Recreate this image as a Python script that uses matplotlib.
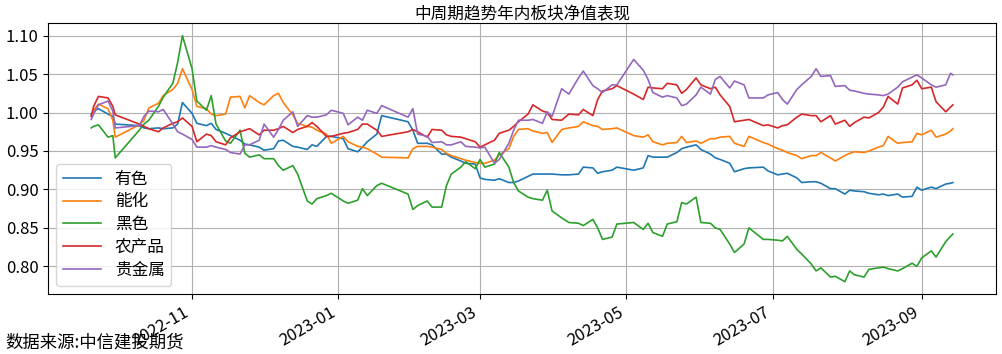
import matplotlib
matplotlib.use("Agg")
import matplotlib.pyplot as plt
import matplotlib.dates as mdates
import pandas as pd

plt.rcParams["font.family"] = ["Noto Sans CJK SC", "DejaVu Sans"]

# exchange holidays (weekdays with no trading)
HOLIDAYS = ["2022-10-03", "2022-10-04", "2022-10-05", "2022-10-06", "2022-10-07",
            "2023-01-02", "2023-01-23", "2023-01-24", "2023-01-25", "2023-01-26",
            "2023-01-27", "2023-04-05", "2023-05-01", "2023-05-02", "2023-05-03",
            "2023-06-22", "2023-06-23"]

days = pd.bdate_range("2022-09-20", "2023-09-14")
days = days[~days.isin(pd.to_datetime(HOLIDAYS))]
# every second trading day, plus first / last and the 30 Sep close
idx = sorted({0, 8, len(days) - 1} | set(range(1, len(days) - 1, 2)))
dates = days[idx]

LABELS = ["有色", "能化", "黑色", "农产品", "贵金属"]

youse = [0.998, 1.002, 1.005, 0.998, 0.995, 0.985, 0.983, 0.980, 0.979, 0.980, 0.979, 0.980, 0.985, 1.013, 0.999, 0.986, 0.983, 0.986, 0.978, 0.973, 0.970,
         0.964, 0.959, 0.958, 0.955, 0.951, 0.953, 0.963, 0.964, 0.956, 0.955, 0.952, 0.958, 0.956, 0.969, 0.969, 0.966, 0.953, 0.949, 0.955, 0.962, 0.972,
         0.996, 0.988, 0.977, 0.960, 0.960, 0.958, 0.946, 0.946, 0.942, 0.937, 0.934, 0.933, 0.915, 0.913, 0.912, 0.914, 0.909, 0.909, 0.911,
         0.917, 0.920, 0.920, 0.920, 0.920, 0.919, 0.919, 0.920, 0.929, 0.928, 0.921, 0.923, 0.925, 0.929, 0.925, 0.928, 0.944, 0.942, 0.942, 0.942,
         0.948, 0.953, 0.955, 0.958, 0.952, 0.946, 0.941, 0.939, 0.934, 0.923, 0.927, 0.928, 0.929, 0.924, 0.919, 0.920, 0.921, 0.915, 0.909, 0.910,
         0.910, 0.908, 0.901, 0.901, 0.894, 0.899, 0.898, 0.897, 0.895, 0.893, 0.894, 0.892, 0.894, 0.890, 0.891, 0.903, 0.899, 0.903, 0.901, 0.907, 0.908, 0.909]

nenghua = [0.995, 1.003, 1.011, 1.005, 0.990, 0.968, 0.984, 0.990, 1.006, 1.012, 1.022, 1.030, 1.038, 1.057, 1.030, 1.008, 1.005, 0.998, 0.996, 0.998, 1.020,
           1.021, 1.006, 1.022, 1.013, 1.010, 1.022, 1.025, 1.013, 0.997, 0.986, 0.982, 0.981, 0.977, 0.972, 0.960, 0.969, 0.962, 0.956, 0.955, 0.953, 0.946,
           0.942, 0.941, 0.953, 0.956, 0.956, 0.955, 0.952, 0.947, 0.944, 0.940, 0.938, 0.935, 0.934, 0.934, 0.938, 0.945, 0.953, 0.969, 0.978,
           0.979, 0.976, 0.973, 0.974, 0.961, 0.978, 0.980, 0.982, 0.988, 0.983, 0.982, 0.978, 0.979, 0.980, 0.970, 0.968, 0.971, 0.962, 0.958, 0.960,
           0.961, 0.969, 0.961, 0.963, 0.960, 0.966, 0.966, 0.968, 0.969, 0.960, 0.956, 0.969, 0.961, 0.959, 0.953, 0.951, 0.948, 0.944, 0.940, 0.944,
           0.944, 0.948, 0.941, 0.937, 0.944, 0.947, 0.949, 0.948, 0.950, 0.955, 0.957, 0.969, 0.960, 0.961, 0.962, 0.973, 0.971, 0.977, 0.968, 0.972, 0.976, 0.979]

heise = [0.980, 0.982, 0.984, 0.968, 0.970, 0.941, 0.977, 0.985, 0.990, 1.008, 1.020, 1.038, 1.065, 1.100, 1.057, 1.015, 1.003, 1.022, 0.985, 0.963, 0.960,
         0.977, 0.947, 0.942, 0.945, 0.940, 0.940, 0.931, 0.925, 0.931, 0.920, 0.885, 0.881, 0.888, 0.892, 0.895, 0.885, 0.882, 0.886, 0.901, 0.892, 0.905,
         0.908, 0.894, 0.874, 0.879, 0.885, 0.877, 0.877, 0.905, 0.920, 0.929, 0.936, 0.927, 0.939, 0.929, 0.933, 0.948, 0.929, 0.909, 0.898,
         0.890, 0.888, 0.886, 0.899, 0.872, 0.863, 0.857, 0.856, 0.853, 0.861, 0.850, 0.835, 0.838, 0.855, 0.857, 0.848, 0.856, 0.844, 0.839, 0.855,
         0.858, 0.883, 0.881, 0.890, 0.857, 0.856, 0.850, 0.848, 0.829, 0.818, 0.829, 0.850, 0.835, 0.835, 0.834, 0.833, 0.839, 0.822, 0.816, 0.803,
         0.794, 0.798, 0.786, 0.787, 0.780, 0.794, 0.789, 0.786, 0.796, 0.798, 0.799, 0.797, 0.794, 0.797, 0.804, 0.800, 0.811, 0.820, 0.812, 0.832, 0.839, 0.842]

nongchanpin = [0.995, 1.008, 1.021, 1.019, 1.008, 0.997, 0.985, 0.982, 0.979, 0.975, 0.980, 0.986, 0.988, 0.993, 0.982, 0.962, 0.972, 0.970, 0.962, 0.958, 0.967,
               0.975, 0.977, 0.979, 0.971, 0.977, 0.977, 0.979, 0.982, 0.974, 0.978, 0.982, 0.987, 0.982, 0.969, 0.969, 0.973, 0.974, 0.978, 0.985, 0.985, 0.977,
               0.969, 0.975, 0.978, 0.975, 0.968, 0.978, 0.977, 0.971, 0.969, 0.968, 0.966, 0.962, 0.955, 0.958, 0.964, 0.973, 0.977, 0.982, 0.988,
               0.998, 1.010, 1.002, 1.000, 0.991, 0.990, 0.998, 0.997, 1.004, 0.996, 1.017, 1.028, 1.031, 1.035, 1.024, 1.017, 1.033, 1.032, 1.031, 1.038,
               1.036, 1.025, 1.030, 1.045, 1.036, 1.031, 1.033, 1.023, 1.008, 0.988, 0.990, 0.991, 0.983, 0.984, 0.980, 0.983, 0.984, 0.994, 0.998, 0.996,
               0.996, 0.988, 0.996, 0.985, 0.990, 0.982, 0.987, 0.994, 0.993, 1.000, 1.007, 1.021, 1.011, 1.032, 1.036, 1.042, 1.031, 1.033, 1.014, 1.001, 1.007, 1.010]

guijinshu = [0.991, 0.998, 1.010, 1.015, 1.002, 0.980, 0.983, 0.995, 1.002, 1.001, 1.004, 0.985, 0.975, 0.972, 0.965, 0.955, 0.955, 0.957, 0.955, 0.952, 0.948,
             0.946, 0.958, 0.958, 0.964, 0.985, 0.968, 0.978, 0.990, 1.001, 0.982, 0.996, 0.994, 0.994, 0.997, 1.003, 0.999, 0.984, 0.994, 0.990, 1.003, 0.999,
             1.009, 0.994, 1.005, 0.972, 0.969, 0.961, 0.962, 0.958, 0.958, 0.962, 0.956, 0.955, 0.954, 0.955, 0.934, 0.939, 0.960, 0.977, 0.990,
             0.990, 0.991, 0.986, 1.001, 0.995, 1.031, 1.024, 1.045, 1.054, 1.035, 1.031, 1.026, 1.036, 1.036, 1.069, 1.055, 1.043, 1.026, 1.020, 1.022,
             1.019, 1.009, 1.011, 1.023, 1.033, 1.024, 1.043, 1.047, 1.032, 1.041, 1.036, 1.019, 1.019, 1.023, 1.026, 1.017, 1.011, 1.030, 1.036, 1.047,
             1.057, 1.047, 1.048, 1.034, 1.035, 1.029, 1.028, 1.025, 1.024, 1.023, 1.022, 1.024, 1.033, 1.040, 1.046, 1.049, 1.045, 1.036, 1.033, 1.036, 1.051, 1.049]

series = [youse, nenghua, heise, nongchanpin, guijinshu]

fig, ax = plt.subplots(figsize=(10.03, 3.54), dpi=100)
fig.subplots_adjust(left=0.048, right=0.993, top=0.934, bottom=0.1695)

for vals, label in zip(series, LABELS):
    ax.plot(dates, vals, lw=1.2, label=label)

ax.set_title("中周期趋势年内板块净值表现", fontsize=12, pad=3)
ax.grid(True)
ax.xaxis.set_major_locator(mdates.MonthLocator(bymonth=[1, 3, 5, 7, 9, 11]))
ax.xaxis.set_major_formatter(mdates.DateFormatter("%Y-%m"))
ax.tick_params(labelsize=12)
plt.setp(ax.get_xticklabels(), rotation=30, ha="right")
ax.legend(loc="lower left", fontsize=12, labelspacing=0.35, handlelength=2.3)

fig.text(0.005, 0.033, "数据来源:中信建投期货", fontsize=12.5, va="center")

fig.savefig("out.png", dpi=100)
